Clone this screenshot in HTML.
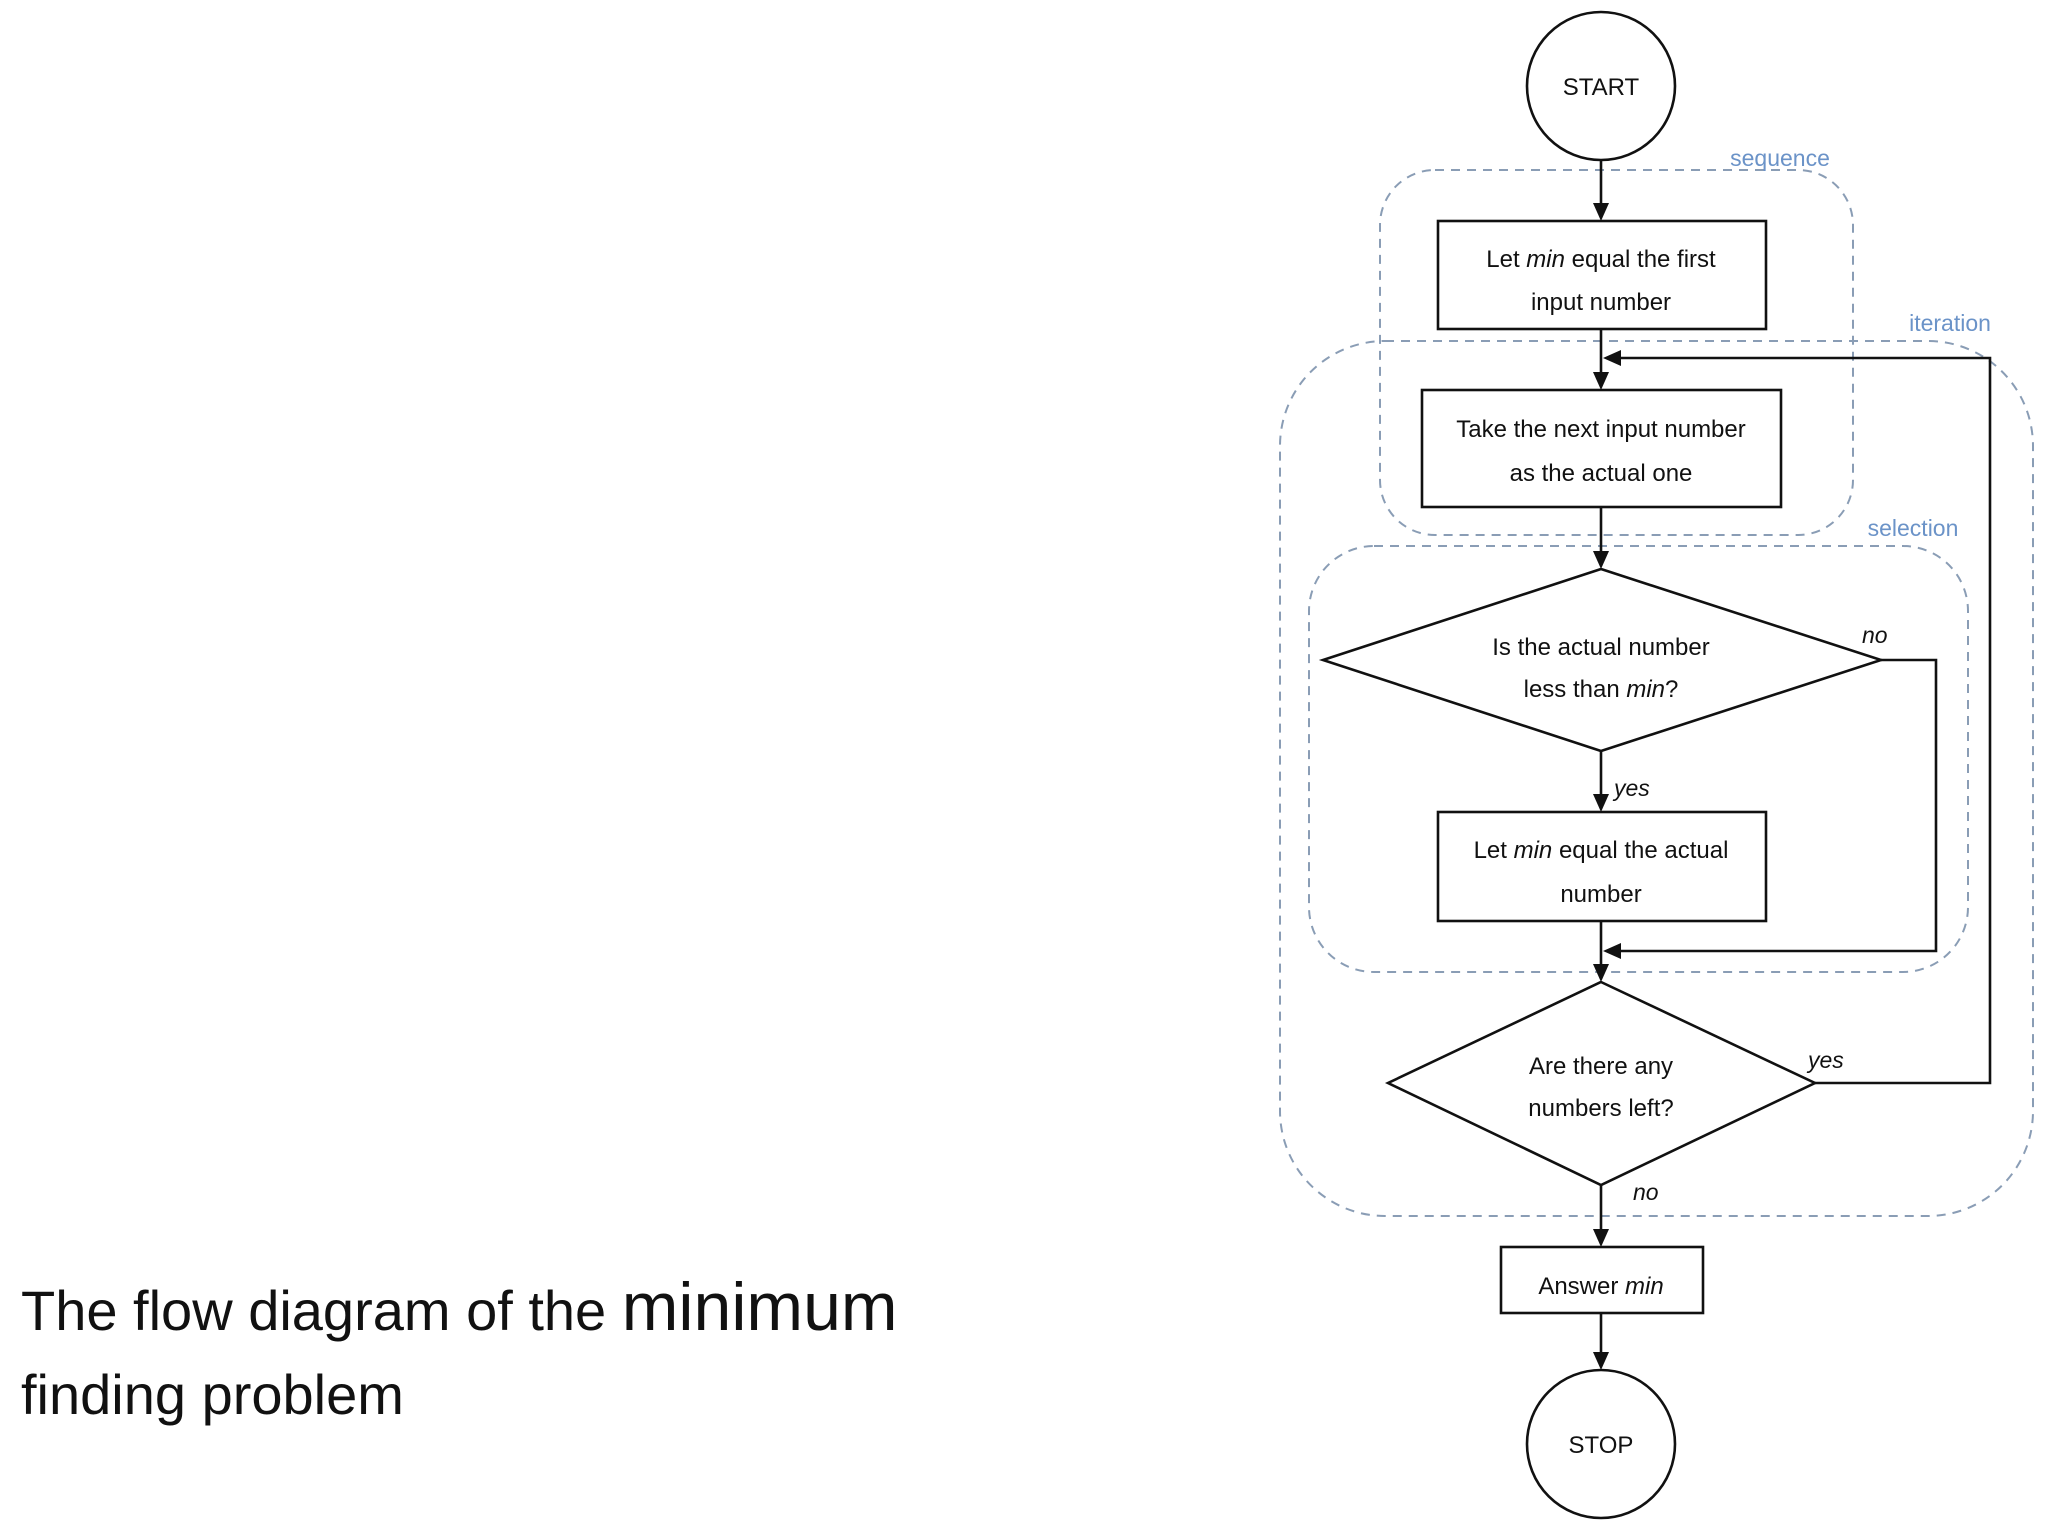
<!DOCTYPE html>
<html><head><meta charset="utf-8"><style>
html,body{margin:0;padding:0;background:#fff;}
svg{display:block;}
text{font-family:"Liberation Sans",sans-serif;}
</style></head><body>
<svg width="2048" height="1536" viewBox="0 0 2048 1536" xmlns="http://www.w3.org/2000/svg">
<defs>
<marker id="a" markerWidth="10" markerHeight="10" refX="9" refY="5" orient="auto" markerUnits="userSpaceOnUse" viewBox="0 0 10 10">
</marker>
</defs>
<!-- caption -->
<text x="21" y="1330" font-size="56" fill="#111">The flow diagram of the <tspan font-size="68">minimum</tspan></text>
<text x="21" y="1414" font-size="56" fill="#111">finding problem</text>

<!-- dashed regions -->
<g fill="none" stroke="#8a9db5" stroke-width="2" stroke-dasharray="9,7">
<rect x="1380" y="170" width="473" height="365" rx="55"/>
<rect x="1280" y="341" width="753" height="875" rx="105"/>
<rect x="1309" y="546" width="659" height="426" rx="65"/>
</g>
<g font-size="23" fill="#6b93c8" text-anchor="middle">
<text x="1780" y="166">sequence</text>
<text x="1950" y="331">iteration</text>
<text x="1913" y="536">selection</text>
</g>

<!-- shapes -->
<g fill="#fff" stroke="#111" stroke-width="2.6">
<circle cx="1601" cy="86" r="74"/>
<rect x="1438" y="221" width="328" height="108"/>
<rect x="1422" y="390" width="359" height="117"/>
<polygon points="1601,569 1881,660 1601,751 1323,660"/>
<rect x="1438" y="812" width="328" height="109"/>
<polygon points="1601,982 1815,1083 1601,1185 1388,1083"/>
<rect x="1501" y="1247" width="202" height="66"/>
<circle cx="1601" cy="1444" r="74"/>
</g>

<!-- connectors -->
<g fill="none" stroke="#111" stroke-width="2.6">
<line x1="1601" y1="160" x2="1601" y2="205"/>
<line x1="1601" y1="329" x2="1601" y2="374"/>
<line x1="1601" y1="507" x2="1601" y2="553"/>
<line x1="1601" y1="751" x2="1601" y2="796"/>
<line x1="1601" y1="921" x2="1601" y2="966"/>
<line x1="1601" y1="1185" x2="1601" y2="1231"/>
<line x1="1601" y1="1313" x2="1601" y2="1354"/>
<polyline points="1881,660 1936,660 1936,951 1620,951"/>
<polyline points="1815,1083 1990,1083 1990,358 1620,358"/>
</g>
<g fill="#111">
<polygon points="1593,203 1609,203 1601,221"/>
<polygon points="1593,372 1609,372 1601,390"/>
<polygon points="1593,551 1609,551 1601,569"/>
<polygon points="1593,794 1609,794 1601,812"/>
<polygon points="1593,964 1609,964 1601,982"/>
<polygon points="1593,1229 1609,1229 1601,1247"/>
<polygon points="1593,1352 1609,1352 1601,1370"/>
<polygon points="1603,951 1621,943 1621,959"/>
<polygon points="1603,358 1621,350 1621,366"/>
</g>

<!-- node text -->
<g font-size="24" fill="#111" text-anchor="middle">
<text x="1601" y="95">START</text>
<text x="1601" y="267">Let <tspan font-style="italic">min</tspan> equal the first</text>
<text x="1601" y="310">input number</text>
<text x="1601" y="437">Take the next input number</text>
<text x="1601" y="481">as the actual one</text>
<text x="1601" y="655">Is the actual number</text>
<text x="1601" y="697">less than <tspan font-style="italic">min</tspan>?</text>
<text x="1601" y="858">Let <tspan font-style="italic">min</tspan> equal the actual</text>
<text x="1601" y="902">number</text>
<text x="1601" y="1074">Are there any</text>
<text x="1601" y="1116">numbers left?</text>
<text x="1601" y="1294">Answer <tspan font-style="italic">min</tspan></text>
<text x="1601" y="1453">STOP</text>
</g>
<g font-size="23" fill="#111" font-style="italic">
<text x="1862" y="643">no</text>
<text x="1614" y="796">yes</text>
<text x="1808" y="1068">yes</text>
<text x="1633" y="1200">no</text>
</g>
</svg>
</body></html>
